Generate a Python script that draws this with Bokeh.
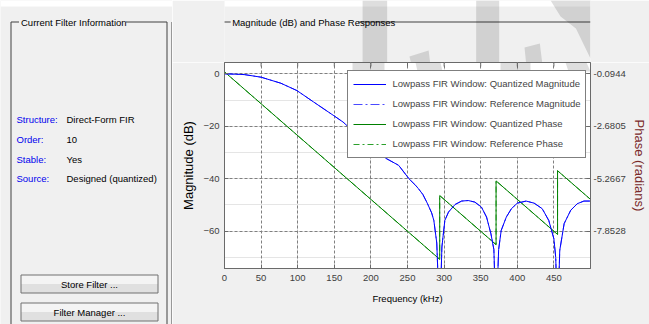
import math
from bokeh.plotting import figure
from bokeh.layouts import row, column
from bokeh.models import (Range1d, LinearAxis, FixedTicker, Legend, LegendItem,
                          BoxAnnotation, PolyAnnotation, ColumnDataSource, Grid,
                          NumeralTickFormatter, Arrow)
from bokeh.core.properties import value
from bokeh.embed import file_html
from bokeh.resources import INLINE

# ---------------- data ----------------
freq_khz = [0, 27, 50, 77, 99, 122, 149, 162, 190, 221, 238, 252, 261, 265, 271,
            277, 283, 286, 290, 294, 297, 301, 306, 315, 324, 333, 342, 351, 358,
            364, 368, 371, 374.5, 378, 385, 392, 400, 412, 423, 434, 443, 450,
            452.5, 455, 458, 464, 473, 482, 491, 500]
magnitude_db = [0, -0.3, -1.3, -3.6, -6.4, -10.8, -15.9, -18.4, -25.5, -32.3, -34.9,
                -40.0, -42.5, -43.8, -46.0, -49.3, -53.0, -55.9, -64.5, -95, -66,
                -55.9, -52.7, -49.8, -48.5, -48.3, -48.9, -50.8, -54.6, -61, -67,
                -95, -67, -59.7, -54.6, -51.4, -49.3, -48.5, -49.3, -51.4, -55.9,
                -62.9, -70, -95, -67.3, -57.1, -52, -49.5, -48.5, -48.5]

phase_freq_khz = [0, 294, 294, 371, 371, 455, 455, 500]
phase_rad = [0, -9.236, -6.095, -8.514, -5.372, -8.011, -4.870, -6.283]

x_ticks = [0, 50, 100, 150, 200, 250, 300, 350, 400, 450]
mag_ticks = [0, -20, -40, -60]
phase_ticks = [-0.0944, -2.6805, -5.2667, -7.8528]

legend_labels = ["Lowpass FIR Window: Quantized Magnitude",
                 "Lowpass FIR Window: Reference Magnitude",
                 "Lowpass FIR Window: Quantized Phase",
                 "Lowpass FIR Window: Reference Phase"]

info_keys = ["Structure:", "Order:", "Stable:", "Source:"]
info_vals = ["Direct-Form FIR", "10", "Yes", "Designed (quantized)"]
button_texts = ["Store Filter ...", "Filter Manager ..."]

# ---------------- styles ----------------
FONT = "Liberation Sans"
BG = "#f0f0f0"
LINE = "#404040"
C_QMAG, C_RMAG = "#0000ff", "#4a4aff"
C_QPH, C_RPH = "#008000", "#2ca02c"
D_RMAG, D_RPH = "9 3 2 3", "6 3 2 3"
PAGE_W, PAGE_H = 649, 324
SPLIT_X = 172          # left panel | right panel
TOP_H = 62             # strip above the chart frame
FL, FT, FR, FB = 224, 62, 593, 268   # chart frame edges (page px)
WM_ALPHA = 0.13


def canvas(x0, x1, y0, y1):
    """A figure whose data units are page pixels (y downward)."""
    f = figure(width=x1 - x0, height=y1 - y0, output_backend="svg",
               toolbar_location=None, x_range=Range1d(x0, x1),
               y_range=Range1d(y1, y0), x_axis_location=None,
               y_axis_location=None, min_border=0)
    f.outline_line_color = None
    f.background_fill_color = BG
    f.border_fill_color = BG
    f.grid.visible = False
    return f


# ---------------- left panel ----------------
lp = canvas(0, SPLIT_X, 0, PAGE_H)
lp.quad(left=[0], right=[SPLIT_X], top=[0], bottom=[6], fill_color="white",
        line_color=None)
lp.segment(x0=[10.5, 166.5, 10.5, 125.5, 171.5, 171.5],
           y0=[21.5, 21.5, 21.5, 21.5, 21.5, 21.5],
           x1=[10.5, 166.5, 18.5, 166.5, 171.5, 172],
           y1=[330, 330, 21.5, 21.5, 330, 21.5],
           line_color=LINE, line_width=1)
lp.text(x=[20.5], y=[21.5], text=["Current Filter Information"],
        text_font=value(FONT), text_font_size="9.5px", text_color="black",
        text_baseline="middle", text_align="left")
rows_y = [119.3, 139, 158.5, 178.3]
lp.text(x=[16] * 4, y=rows_y, text=info_keys, text_font=value(FONT),
        text_font_size="9.5px", text_color="#0000ee", text_baseline="middle")
lp.text(x=[66] * 4, y=rows_y, text=info_vals, text_font=value(FONT),
        text_font_size="9.5px", text_color="black", text_baseline="middle")
lp.quad(left=[20.5, 20.5], right=[157.5, 157.5], top=[274.5, 302.5],
        bottom=[283.5, 311.5], fill_color="#f4f4f4", line_color=None)
lp.quad(left=[20.5, 20.5], right=[157.5, 157.5], top=[283.5, 311.5],
        bottom=[292.5, 320.5], fill_color="#e0e0e0", line_color=None)
lp.quad(left=[20.5, 20.5], right=[157.5, 157.5], top=[274.5, 302.5],
        bottom=[292.5, 320.5], fill_color=None, line_color="#707070")
lp.text(x=[89, 89], y=[283.8, 311.8], text=button_texts, text_font=value(FONT),
        text_font_size="9.5px", text_color="black", text_baseline="middle",
        text_align="center")

# ---------------- strip above chart ----------------
tp = canvas(SPLIT_X, PAGE_W, 0, TOP_H)
tp.quad(left=[SPLIT_X], right=[PAGE_W], top=[0], bottom=[6], fill_color="white",
        line_color=None)
tp.segment(x0=[171.5, 346], y0=[21.5, 21.5], x1=[180, PAGE_W], y1=[21.5, 21.5],
           line_color=LINE, line_width=1)
tp.text(x=[182], y=[21.5], text=["Magnitude (dB) and Phase Responses"],
        text_font=value(FONT), text_font_size="9.5px", text_color="black",
        text_baseline="middle", text_align="left")
tp.patches(xs=[[352, 384, 384, 352], [500, 530, 530, 500],
               [413, 438, 440, 415], [563, 583, 586, 565],
               [597, 649, 649, 630, 610]],
           ys=[[0, 0, 62, 62], [0, 0, 62, 62], [56, 50, 62, 62],
               [47, 43, 62, 62], [0, 0, 58, 28, 16]],
           fill_color="black", fill_alpha=WM_ALPHA, line_color=None)

# ---------------- chart ----------------
CW = PAGE_W - SPLIT_X
CH = PAGE_H - TOP_H
p = figure(width=CW, height=CH, output_backend="svg", toolbar_location=None,
           x_range=Range1d(0, 500), y_range=Range1d(-74.2, 4.3),
           x_axis_location=None, y_axis_location=None,
           min_border_left=FL - SPLIT_X, min_border_right=PAGE_W - FR,
           min_border_top=FT - TOP_H, min_border_bottom=PAGE_H - FB)
p.extra_y_ranges = {"phase": Range1d(-9.689, 0.462)}
p.background_fill_color = "white"
p.border_fill_color = BG
p.outline_line_color = "#6a6a6a"
p.outline_line_width = 1

xt = FixedTicker(ticks=x_ticks)
yt = FixedTicker(ticks=mag_ticks)
pt = FixedTicker(ticks=phase_ticks)


def style_axis(ax):
    ax.axis_line_color = "#6a6a6a"
    ax.major_tick_line_color = "#6a6a6a"
    ax.major_tick_in = 4
    ax.major_tick_out = 0
    ax.minor_tick_line_color = None
    ax.major_label_text_font = FONT
    ax.major_label_text_font_size = "9.5px"
    ax.major_label_text_color = "#404040"
    ax.axis_label_text_font = FONT
    ax.axis_label_text_font_style = "normal"
    ax.axis_label_text_color = "black"


xb = LinearAxis(ticker=xt, axis_label="Frequency (kHz)")
style_axis(xb)
xb.major_label_standoff = 6
xb.axis_label_standoff = 9
xb.axis_label_text_font_size = "9.5px"
p.add_layout(xb, "below")

yl = LinearAxis(ticker=yt, axis_label="Magnitude (dB)")
style_axis(yl)
yl.major_label_standoff = 5
yl.axis_label_standoff = 4
yl.axis_label_text_font_size = "13px"
p.add_layout(yl, "left")

yr = LinearAxis(ticker=pt, y_range_name="phase", axis_label="Phase (radians)",
                formatter=NumeralTickFormatter(format="0.0000"))
style_axis(yr)
yr.major_label_standoff = 3
yr.axis_label_standoff = 3
yr.axis_label_text_font_size = "13px"
yr.axis_label_text_color = "#7a2a2a"
p.add_layout(yr, "right")

p.add_layout(Grid(dimension=0, ticker=xt, grid_line_color="#808080",
                  grid_line_dash="3 2", grid_line_width=1))
p.add_layout(Grid(dimension=1, ticker=yt, grid_line_color="#808080",
                  grid_line_dash="3 2", grid_line_width=1))

# inside tick marks along the top edge
p.scatter(x=x_ticks, y=[4.3] * len(x_ticks), marker="dash", size=8,
          angle=math.pi / 2, line_color="#6a6a6a", line_width=1)

mag_src = ColumnDataSource(dict(xs=[freq_khz], ys=[magnitude_db]))
ph_src = ColumnDataSource(dict(xs=[phase_freq_khz], ys=[phase_rad]))

r_ref_ph = p.multi_line("xs", "ys", source=ph_src, y_range_name="phase",
                        line_color=C_RPH, line_width=1, line_dash=D_RPH)
r_q_ph = p.multi_line("xs", "ys", source=ph_src, y_range_name="phase",
                      line_color=C_QPH, line_width=1)
r_ref_mag = p.multi_line("xs", "ys", source=mag_src, line_color=C_RMAG,
                         line_width=1, line_dash=D_RMAG)
r_q_mag = p.multi_line("xs", "ys", source=mag_src, line_color=C_QMAG,
                       line_width=1)

LEG_L, LEG_B = 346.5, 157.5
PAD, GH, SP, GW = 5, 16, 4, 33
legend = Legend(items=[LegendItem(label=legend_labels[0], renderers=[r_q_mag], index=0),
                       LegendItem(label=legend_labels[1], renderers=[r_ref_mag], index=0),
                       LegendItem(label=legend_labels[2], renderers=[r_q_ph], index=0),
                       LegendItem(label=legend_labels[3], renderers=[r_ref_ph], index=0)],
                location=(LEG_L - FL, FB - LEG_B))
legend.margin = 0
legend.padding = PAD
legend.spacing = SP
legend.glyph_width = GW
legend.glyph_height = GH
legend.label_height = GH
legend.label_standoff = 7
legend.label_text_font = FONT
legend.label_text_font_size = "9.5px"
legend.border_line_color = "black"
legend.border_line_width = 1
legend.background_fill_color = "white"
legend.background_fill_alpha = 1
p.add_layout(legend)

# colour the legend sample lines (drawn over the legend's own samples)
leg_top = LEG_B - (2 * PAD + 4 * GH + 3 * SP)
gx0, gx1 = LEG_L + PAD, LEG_L + PAD + GW
styles = [(C_QMAG, "solid"), (C_RMAG, D_RMAG), (C_QPH, "solid"), (C_RPH, D_RPH)]
for i, (col, dash) in enumerate(styles):
    yy = leg_top + PAD + GH / 2 + i * (GH + SP)
    for lc, lw, ld in (("white", 3, "solid"), (col, 1, dash)):
        p.add_layout(Arrow(end=None, x_start=gx0 - FL, x_end=gx1 - FL,
                           y_start=FB - yy, y_end=FB - yy,
                           start_units="screen", end_units="screen",
                           line_color=lc, line_width=lw, line_dash=ld,
                           level="overlay"))

# watermark parts that fall inside the chart frame (drawn above the legend)
def wm_box(x0, y0, x1, y1):
    p.add_layout(BoxAnnotation(left=x0 - FL, right=x1 - FL, top=FB - y0,
                               bottom=FB - y1, left_units="screen",
                               right_units="screen", top_units="screen",
                               bottom_units="screen", fill_color="black",
                               fill_alpha=WM_ALPHA, line_color=None,
                               level="overlay"))

def wm_poly(pts):
    p.add_layout(PolyAnnotation(xs=[a - FL for a, _ in pts],
                                ys=[FB - b for _, b in pts],
                                xs_units="screen", ys_units="screen",
                                fill_color="black", fill_alpha=WM_ALPHA,
                                line_color=None, level="overlay"))

wm_box(352, 62, 384, 112)
wm_box(500, 62, 530, 70)
wm_poly([(415, 62), (440, 62), (442, 71), (417, 71)])
wm_poly([(565, 62), (586, 62), (590, 71), (568, 71)])

layout = row(lp, column(tp, p, spacing=0), spacing=0)
open("out.html", "w").write(file_html(layout, INLINE))
